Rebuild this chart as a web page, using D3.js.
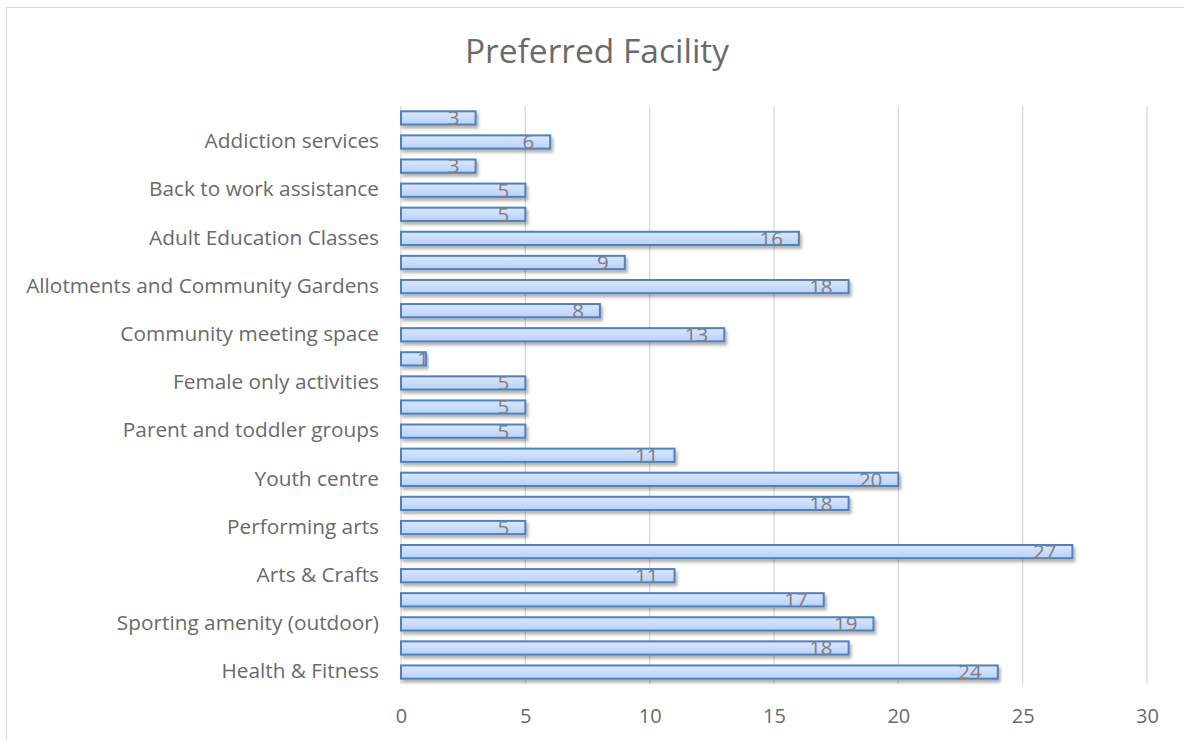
<!DOCTYPE html>
<html>
<head>
<meta charset="utf-8">
<script src="https://cdn.jsdelivr.net/npm/d3@7"></script>
<style>
  body { margin: 0; background: #fff; }
  text { font-family: "Open Sans", "Noto Sans", sans-serif; }
</style>
</head>
<body>
<div id="chart"></div>
<script>
// Categories top to bottom; Excel skipped every other axis label, so those are left blank
const categories = [
    "", "Addiction services", "", "Back to work assistance", "", "Adult Education Classes",
    "", "Allotments and Community Gardens", "", "Community meeting space", "", "Female only activities",
    "", "Parent and toddler groups", "", "Youth centre", "", "Performing arts",
    "", "Arts & Crafts", "", "Sporting amenity (outdoor)", "", "Health & Fitness"
];
const values = [3, 6, 3, 5, 5, 16, 9, 18, 8, 13, 1, 5, 5, 5, 11, 20, 18, 5, 27, 11, 17, 19, 18, 24];
const xTicks = [0, 5, 10, 15, 20, 25, 30];

const W = 1184, H = 740;
const margin = { top: 106, right: 37, bottom: 56, left: 401 };
const width = W - margin.left - margin.right;
const height = H - margin.top - margin.bottom;

const svg = d3.select("#chart")
    .append("svg")
    .attr("width", W)
    .attr("height", H);

// Gradient and shadow for the bars
const defs = svg.append("defs");
const grad = defs.append("linearGradient")
    .attr("id", "barGrad")
    .attr("x1", 0).attr("y1", 0).attr("x2", 0).attr("y2", 1);
grad.append("stop").attr("offset", "0%").attr("stop-color", "#dbe8fd");
grad.append("stop").attr("offset", "100%").attr("stop-color", "#b9d1f8");

const shadow = defs.append("filter").attr("id", "shadow")
    .attr("x", "-5%").attr("y", "-50%").attr("width", "115%").attr("height", "220%");
shadow.append("feDropShadow")
    .attr("dx", 2).attr("dy", 3).attr("stdDeviation", 1.6)
    .attr("flood-color", "#000").attr("flood-opacity", 0.3);

// Chart frame
svg.append("rect")
    .attr("x", 6.5).attr("y", 7.5)
    .attr("width", W).attr("height", H)
    .attr("fill", "none")
    .attr("stroke", "#d9d9d9");

// Title
svg.append("text")
    .attr("x", 597)
    .attr("y", 63)
    .attr("text-anchor", "middle")
    .attr("fill", "#6a6a6a")
    .style("font-size", "33.5px")
    .text("Preferred Facility");

const g = svg.append("g")
    .attr("transform", `translate(${margin.left},${margin.top})`);

const x = d3.scaleLinear()
    .domain([0, 30])
    .range([0, width]);

const y = d3.scaleBand()
    .domain(d3.range(categories.length))
    .range([0, height])
    .paddingInner(0.45)
    .paddingOuter(0.22);

// Gridlines
g.selectAll(".grid")
    .data(xTicks)
    .join("line")
    .attr("class", "grid")
    .attr("x1", d => x(d)).attr("x2", d => x(d))
    .attr("y1", 0).attr("y2", height)
    .attr("stroke", "#d9d9d9")
    .attr("stroke-width", 1.3);

// X axis
const xAxis = g.append("g")
    .attr("transform", `translate(0,${height})`)
    .call(d3.axisBottom(x).tickValues(xTicks).tickSize(0).tickPadding(25));
xAxis.select(".domain").remove();
xAxis.selectAll("text")
    .attr("fill", "#6a6a6a")
    .style("font-size", "20px")
    .style("font-family", "Open Sans, sans-serif");

// Y axis labels
const yAxis = g.append("g")
    .call(d3.axisLeft(y).tickFormat(i => categories[i]).tickSize(0).tickPadding(22));
yAxis.select(".domain").remove();
yAxis.selectAll("text")
    .attr("fill", "#6a6a6a")
    .attr("dy", "0.3em")
    .style("font-size", "20.8px")
    .style("font-family", "Open Sans, sans-serif");

// Bars
g.selectAll(".bar")
    .data(values)
    .join("rect")
    .attr("class", "bar")
    .attr("x", x(0))
    .attr("y", (d, i) => y(i))
    .attr("width", d => x(d) - x(0))
    .attr("height", y.bandwidth())
    .attr("fill", "url(#barGrad)")
    .attr("stroke", "#4f81bd")
    .attr("stroke-width", 2)
    .attr("filter", "url(#shadow)");

// Value labels
g.selectAll(".value")
    .data(values)
    .join("text")
    .attr("class", "value")
    .attr("x", d => Math.max(x(d) - 16, x(0) + 28))
    .attr("y", (d, i) => y(i) + y.bandwidth() / 2)
    .attr("dy", "0.36em")
    .attr("text-anchor", "end")
    .attr("fill", "#7f7f7f")
    .style("font-size", "20.5px")
    .text(d => d);
</script>
</body>
</html>
